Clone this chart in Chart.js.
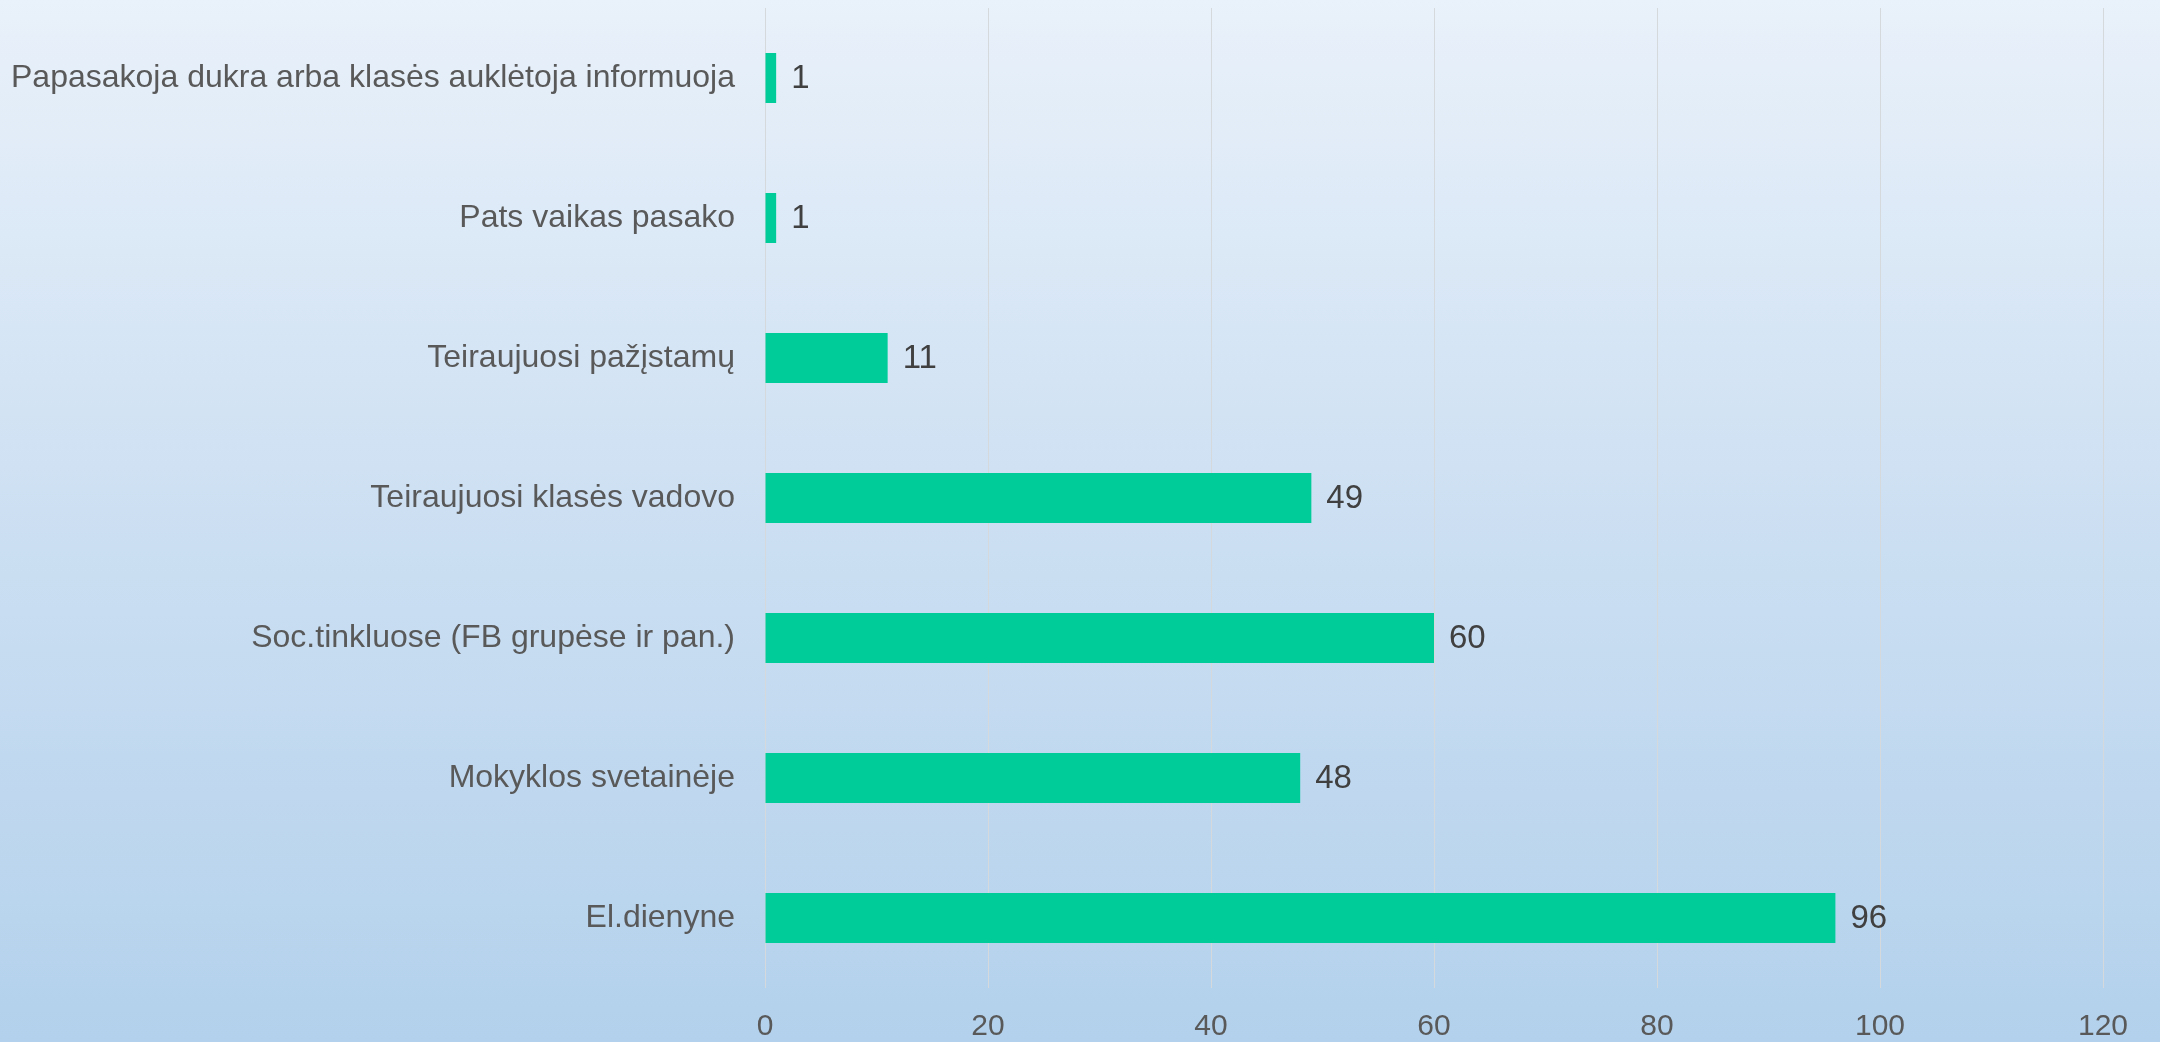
<!DOCTYPE html>
<html>
<head>
<meta charset="utf-8">
<script src="https://cdn.jsdelivr.net/npm/chart.js@4.4.1/dist/chart.umd.min.js"></script>
<style>
  html, body { margin: 0; padding: 0; }
  body { width: 2160px; height: 1042px; overflow: hidden;
         background: linear-gradient(to bottom, #e9f1fa 0%, #cfe1f3 45%, #b3d1ec 100%); }
  #wrap { position: relative; width: 2160px; height: 1042px; }
</style>
</head>
<body>
<div id="wrap"><canvas id="c" width="2160" height="1042"></canvas></div>
<script>
const categories = [
  "Papasakoja dukra arba klasės auklėtoja informuoja",
  "Pats vaikas pasako",
  "Teiraujuosi pažįstamų",
  "Teiraujuosi klasės vadovo",
  "Soc.tinkluose (FB grupėse ir pan.)",
  "Mokyklos svetainėje",
  "El.dienyne"
];
const values = [1, 1, 11, 49, 60, 48, 96];
const xTicks = [0, 20, 40, 60, 80, 100, 120];

const FONT = "'Liberation Sans', Arial, sans-serif";

const valueLabels = {
  id: 'valueLabels',
  afterDatasetsDraw(chart) {
    const ctx = chart.ctx;
    const meta = chart.getDatasetMeta(0);
    ctx.save();
    ctx.font = "33px " + FONT;
    ctx.fillStyle = "#404040";
    ctx.textAlign = "left";
    ctx.textBaseline = "middle";
    meta.data.forEach((bar, i) => {
      ctx.fillText(String(values[i]), bar.x + 15, bar.y + 1);
    });
    ctx.restore();
  }
};

new Chart(document.getElementById('c'), {
  type: 'bar',
  data: {
    labels: categories,
    datasets: [{
      data: values,
      backgroundColor: '#00cc99',
      borderWidth: 0,
      categoryPercentage: 1.0,
      barPercentage: 0.357
    }]
  },
  options: {
    indexAxis: 'y',
    responsive: false,
    animation: false,
    devicePixelRatio: 1,
    layout: { padding: { top: 8, right: 57, left: 0, bottom: 0 } },
    plugins: {
      legend: { display: false },
      tooltip: { enabled: false },
      title: { display: false }
    },
    scales: {
      x: {
        min: 0, max: 120,
        afterBuildTicks(scale) { scale.ticks = xTicks.map(v => ({ value: v })); },
        grid: { color: '#d6d9dc', lineWidth: 1, drawTicks: false },
        border: { display: false },
        ticks: { color: '#595959', font: { family: FONT, size: 30 }, padding: 21 },
        afterFit(scale) { scale.height = 54; }
      },
      y: {
        grid: { display: false, drawTicks: false },
        border: { display: false },
        ticks: { color: '#595959', font: { family: FONT, size: 32 }, padding: 30 },
        afterFit(scale) { scale.width = 765; scale.paddingTop = 0; scale.paddingBottom = 0; }
      }
    }
  },
  plugins: [valueLabels]
});
</script>
</body>
</html>
